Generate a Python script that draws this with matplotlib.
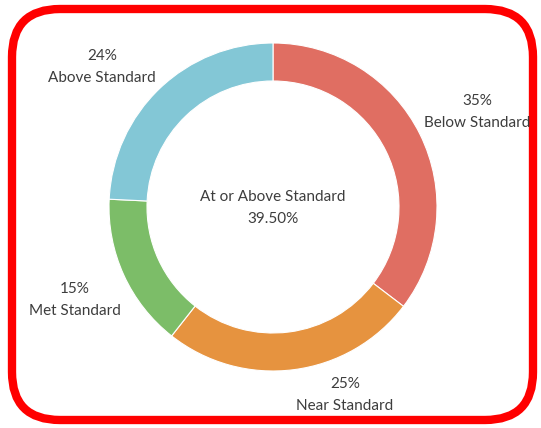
import matplotlib.pyplot as plt
from matplotlib.patches import FancyBboxPatch

categories = ["Below Standard", "Near Standard", "Met Standard", "Above Standard"]
values = [35, 25, 15, 24]
colors = ["#E06E62", "#E6933F", "#7CBD68", "#83C7D6"]
center_title = "At or Above Standard"
center_value = "39.50%"

# label anchor spots (pixel coords, y down)
label_pos = [(477, 112), (345, 395), (75, 300), (102, 67)]

plt.rcParams['font.family'] = ['Lato', 'DejaVu Sans']

fig = plt.figure(figsize=(5.41, 4.28), dpi=100)
ax = fig.add_axes([0, 0, 1, 1])

# y axis is flipped below, so start at -90 and go "counterclock" to look clockwise from the top
ax.pie(values, colors=colors, startangle=-90, counterclock=True,
       center=(273, 207), radius=164,
       wedgeprops=dict(width=38, edgecolor='white', linewidth=0.8))
ax.set_xlim(0, 541)
ax.set_ylim(428, 0)
ax.set_aspect('equal')
ax.axis('off')

for cat, val, (x, y) in zip(categories, values, label_pos):
    ax.text(x, y, f"{val}%\n{cat}", ha='center', va='center',
            fontsize=11, color='#3d3d3d', linespacing=1.75)

ax.text(273, 208, f"{center_title}\n{center_value}", ha='center', va='center',
        fontsize=11, color='#3d3d3d', linespacing=1.75)

border = FancyBboxPatch((12, 9), 521, 411,
                        boxstyle="round,pad=0,rounding_size=48",
                        fill=False, edgecolor='#FF0000', linewidth=6)
ax.add_patch(border)

fig.savefig("out.png", dpi=100)
